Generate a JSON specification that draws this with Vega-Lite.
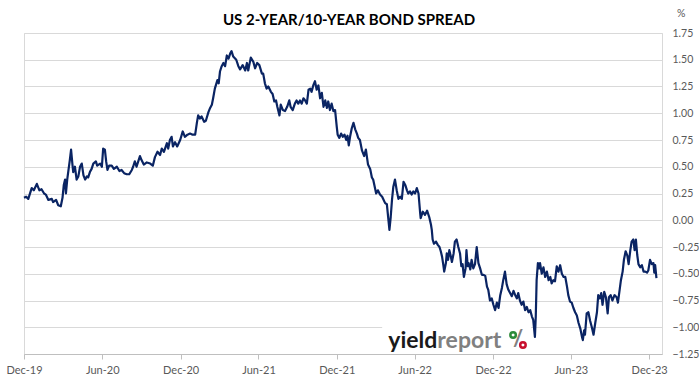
{
  "$schema": "https://vega.github.io/schema/vega-lite/v6.json",
  "width": 638,
  "height": 321,
  "autosize": {"type": "none"},
  "padding": {"left": 24, "top": 33, "right": 37, "bottom": 31},
  "background": "#ffffff",
  "title": {
    "text": "US 2-YEAR/10-YEAR BOND SPREAD",
    "font": "Lato",
    "fontSize": 15,
    "fontWeight": "bold",
    "color": "#000000",
    "anchor": "middle",
    "baseline": "bottom",
    "dx": 6,
    "offset": -34
  },
  "config": {
    "view": {"stroke": "#d9d9d9", "strokeWidth": 1},
    "axis": {"labelFont": "Lato", "labelFontSize": 11, "labelColor": "#595959", "gridColor": "#d9d9d9", "titleFont": "Lato", "labelOverlap": false}
  },
  "data": {
    "values": [
      {"d":"2019-12-01","v":0.21},{"d":"2019-12-06","v":0.22},{"d":"2019-12-11","v":0.20},{"d":"2019-12-19","v":0.30},{"d":"2019-12-24","v":0.28},{"d":"2019-12-31","v":0.34},
      {"d":"2020-01-06","v":0.28},{"d":"2020-01-11","v":0.29},{"d":"2020-01-17","v":0.25},{"d":"2020-01-21","v":0.24},{"d":"2020-01-27","v":0.19},
      {"d":"2020-02-04","v":0.20},{"d":"2020-02-07","v":0.17},{"d":"2020-02-14","v":0.19},{"d":"2020-02-19","v":0.14},{"d":"2020-02-25","v":0.13},{"d":"2020-02-29","v":0.21},
      {"d":"2020-03-03","v":0.33},{"d":"2020-03-06","v":0.38},{"d":"2020-03-08","v":0.25},{"d":"2020-03-11","v":0.38},{"d":"2020-03-14","v":0.47},{"d":"2020-03-17","v":0.56},{"d":"2020-03-20","v":0.66},{"d":"2020-03-23","v":0.53},{"d":"2020-03-25","v":0.45},{"d":"2020-03-29","v":0.50},
      {"d":"2020-04-02","v":0.38},{"d":"2020-04-06","v":0.41},{"d":"2020-04-10","v":0.50},{"d":"2020-04-14","v":0.53},{"d":"2020-04-18","v":0.42},{"d":"2020-04-22","v":0.38},{"d":"2020-04-26","v":0.41},{"d":"2020-04-29","v":0.40},
      {"d":"2020-05-03","v":0.45},{"d":"2020-05-07","v":0.48},{"d":"2020-05-11","v":0.53},{"d":"2020-05-17","v":0.55},{"d":"2020-05-20","v":0.51},{"d":"2020-05-27","v":0.53},{"d":"2020-05-31","v":0.50},
      {"d":"2020-06-03","v":0.67},{"d":"2020-06-07","v":0.66},{"d":"2020-06-10","v":0.55},{"d":"2020-06-13","v":0.47},{"d":"2020-06-17","v":0.51},{"d":"2020-06-23","v":0.51},{"d":"2020-06-28","v":0.48},
      {"d":"2020-07-05","v":0.50},{"d":"2020-07-11","v":0.46},{"d":"2020-07-16","v":0.47},{"d":"2020-07-22","v":0.44},{"d":"2020-07-28","v":0.43},
      {"d":"2020-08-03","v":0.43},{"d":"2020-08-09","v":0.47},{"d":"2020-08-12","v":0.50},{"d":"2020-08-16","v":0.55},{"d":"2020-08-20","v":0.50},{"d":"2020-08-24","v":0.55},{"d":"2020-08-28","v":0.60},
      {"d":"2020-09-01","v":0.56},{"d":"2020-09-06","v":0.52},{"d":"2020-09-13","v":0.54},{"d":"2020-09-21","v":0.53},{"d":"2020-09-27","v":0.51},
      {"d":"2020-10-02","v":0.59},{"d":"2020-10-08","v":0.64},{"d":"2020-10-14","v":0.61},{"d":"2020-10-18","v":0.67},{"d":"2020-10-23","v":0.64},{"d":"2020-10-30","v":0.72},
      {"d":"2020-11-02","v":0.67},{"d":"2020-11-06","v":0.75},{"d":"2020-11-10","v":0.78},{"d":"2020-11-13","v":0.69},{"d":"2020-11-18","v":0.73},{"d":"2020-11-23","v":0.69},{"d":"2020-11-30","v":0.75},
      {"d":"2020-12-06","v":0.83},{"d":"2020-12-11","v":0.78},{"d":"2020-12-17","v":0.80},{"d":"2020-12-23","v":0.81},{"d":"2020-12-29","v":0.80},
      {"d":"2021-01-04","v":0.80},{"d":"2021-01-08","v":0.91},{"d":"2021-01-11","v":0.98},{"d":"2021-01-15","v":0.95},{"d":"2021-01-19","v":0.97},{"d":"2021-01-25","v":0.92},{"d":"2021-01-29","v":0.93},
      {"d":"2021-02-04","v":1.01},{"d":"2021-02-08","v":1.05},{"d":"2021-02-12","v":1.08},{"d":"2021-02-15","v":1.14},{"d":"2021-02-19","v":1.23},{"d":"2021-02-25","v":1.31},{"d":"2021-02-28","v":1.28},
      {"d":"2021-03-03","v":1.39},{"d":"2021-03-07","v":1.44},{"d":"2021-03-11","v":1.47},{"d":"2021-03-15","v":1.44},{"d":"2021-03-19","v":1.54},{"d":"2021-03-23","v":1.51},{"d":"2021-03-27","v":1.56},{"d":"2021-03-30","v":1.58},
      {"d":"2021-04-03","v":1.53},{"d":"2021-04-10","v":1.50},{"d":"2021-04-15","v":1.44},{"d":"2021-04-19","v":1.41},{"d":"2021-04-25","v":1.45},
      {"d":"2021-05-01","v":1.40},{"d":"2021-05-05","v":1.47},{"d":"2021-05-08","v":1.40},{"d":"2021-05-14","v":1.52},{"d":"2021-05-20","v":1.48},{"d":"2021-05-24","v":1.42},{"d":"2021-05-29","v":1.47},
      {"d":"2021-06-03","v":1.45},{"d":"2021-06-09","v":1.37},{"d":"2021-06-12","v":1.37},{"d":"2021-06-16","v":1.28},{"d":"2021-06-20","v":1.23},{"d":"2021-06-24","v":1.25},{"d":"2021-06-30","v":1.20},
      {"d":"2021-07-04","v":1.18},{"d":"2021-07-08","v":1.11},{"d":"2021-07-12","v":1.12},{"d":"2021-07-15","v":1.06},{"d":"2021-07-20","v":0.98},{"d":"2021-07-23","v":1.08},{"d":"2021-07-28","v":1.03},
      {"d":"2021-08-02","v":1.02},{"d":"2021-08-07","v":1.06},{"d":"2021-08-12","v":1.12},{"d":"2021-08-15","v":1.06},{"d":"2021-08-20","v":1.03},{"d":"2021-08-25","v":1.09},{"d":"2021-08-29","v":1.12},
      {"d":"2021-09-02","v":1.09},{"d":"2021-09-06","v":1.12},{"d":"2021-09-10","v":1.09},{"d":"2021-09-14","v":1.14},{"d":"2021-09-18","v":1.12},{"d":"2021-09-22","v":1.09},{"d":"2021-09-26","v":1.22},{"d":"2021-09-30","v":1.23},
      {"d":"2021-10-03","v":1.20},{"d":"2021-10-07","v":1.26},{"d":"2021-10-11","v":1.30},{"d":"2021-10-15","v":1.22},{"d":"2021-10-19","v":1.26},{"d":"2021-10-23","v":1.14},{"d":"2021-10-27","v":1.19},{"d":"2021-10-31","v":1.06},
      {"d":"2021-11-04","v":1.12},{"d":"2021-11-08","v":1.05},{"d":"2021-11-11","v":1.11},{"d":"2021-11-15","v":1.03},{"d":"2021-11-19","v":1.09},{"d":"2021-11-23","v":1.02},{"d":"2021-11-27","v":1.03},
      {"d":"2021-12-01","v":0.87},{"d":"2021-12-03","v":0.80},{"d":"2021-12-07","v":0.77},{"d":"2021-12-11","v":0.81},{"d":"2021-12-15","v":0.78},{"d":"2021-12-19","v":0.80},{"d":"2021-12-23","v":0.75},{"d":"2021-12-26","v":0.79},{"d":"2021-12-29","v":0.70},
      {"d":"2022-01-01","v":0.78},{"d":"2022-01-05","v":0.86},{"d":"2022-01-09","v":0.91},{"d":"2022-01-13","v":0.85},{"d":"2022-01-17","v":0.81},{"d":"2022-01-20","v":0.77},{"d":"2022-01-24","v":0.75},{"d":"2022-01-29","v":0.65},
      {"d":"2022-02-03","v":0.60},{"d":"2022-02-07","v":0.66},{"d":"2022-02-12","v":0.52},{"d":"2022-02-17","v":0.48},{"d":"2022-02-21","v":0.40},{"d":"2022-02-24","v":0.38},
      {"d":"2022-03-03","v":0.25},{"d":"2022-03-07","v":0.28},{"d":"2022-03-12","v":0.24},{"d":"2022-03-17","v":0.22},{"d":"2022-03-24","v":0.16},{"d":"2022-03-28","v":0.15},{"d":"2022-03-31","v":0.03},
      {"d":"2022-04-03","v":-0.09},{"d":"2022-04-06","v":0.03},{"d":"2022-04-09","v":0.19},{"d":"2022-04-12","v":0.31},{"d":"2022-04-16","v":0.38},{"d":"2022-04-20","v":0.28},{"d":"2022-04-24","v":0.20},{"d":"2022-04-28","v":0.22},
      {"d":"2022-05-02","v":0.20},{"d":"2022-05-06","v":0.36},{"d":"2022-05-10","v":0.33},{"d":"2022-05-14","v":0.28},{"d":"2022-05-17","v":0.25},{"d":"2022-05-21","v":0.27},{"d":"2022-05-25","v":0.24},{"d":"2022-05-29","v":0.27},
      {"d":"2022-06-02","v":0.25},{"d":"2022-06-06","v":0.30},{"d":"2022-06-10","v":0.25},{"d":"2022-06-14","v":0.06},{"d":"2022-06-15","v":0.02},{"d":"2022-06-20","v":0.08},{"d":"2022-06-25","v":0.05},{"d":"2022-06-30","v":0.09},
      {"d":"2022-07-05","v":0.03},{"d":"2022-07-09","v":-0.04},{"d":"2022-07-11","v":-0.09},{"d":"2022-07-13","v":-0.18},{"d":"2022-07-16","v":-0.22},{"d":"2022-07-21","v":-0.20},{"d":"2022-07-25","v":-0.23},{"d":"2022-07-29","v":-0.25},
      {"d":"2022-08-01","v":-0.29},{"d":"2022-08-04","v":-0.34},{"d":"2022-08-07","v":-0.42},{"d":"2022-08-09","v":-0.48},{"d":"2022-08-13","v":-0.40},{"d":"2022-08-15","v":-0.31},{"d":"2022-08-18","v":-0.37},{"d":"2022-08-21","v":-0.28},{"d":"2022-08-24","v":-0.33},{"d":"2022-08-27","v":-0.39},{"d":"2022-08-31","v":-0.31},
      {"d":"2022-09-03","v":-0.20},{"d":"2022-09-07","v":-0.18},{"d":"2022-09-11","v":-0.25},{"d":"2022-09-15","v":-0.31},{"d":"2022-09-18","v":-0.43},{"d":"2022-09-21","v":-0.41},{"d":"2022-09-24","v":-0.53},{"d":"2022-09-28","v":-0.45},{"d":"2022-09-30","v":-0.28},
      {"d":"2022-10-03","v":-0.43},{"d":"2022-10-05","v":-0.40},{"d":"2022-10-09","v":-0.46},{"d":"2022-10-12","v":-0.37},{"d":"2022-10-16","v":-0.45},{"d":"2022-10-20","v":-0.41},{"d":"2022-10-24","v":-0.25},{"d":"2022-10-28","v":-0.40},
      {"d":"2022-11-01","v":-0.45},{"d":"2022-11-05","v":-0.51},{"d":"2022-11-09","v":-0.51},{"d":"2022-11-13","v":-0.52},{"d":"2022-11-17","v":-0.62},{"d":"2022-11-20","v":-0.65},{"d":"2022-11-24","v":-0.75},{"d":"2022-11-28","v":-0.73},
      {"d":"2022-12-02","v":-0.79},{"d":"2022-12-06","v":-0.84},{"d":"2022-12-10","v":-0.77},{"d":"2022-12-14","v":-0.82},{"d":"2022-12-18","v":-0.70},{"d":"2022-12-22","v":-0.63},{"d":"2022-12-25","v":-0.56},{"d":"2022-12-29","v":-0.48},
      {"d":"2023-01-02","v":-0.60},{"d":"2023-01-06","v":-0.65},{"d":"2023-01-10","v":-0.68},{"d":"2023-01-14","v":-0.71},{"d":"2023-01-18","v":-0.66},{"d":"2023-01-22","v":-0.70},{"d":"2023-01-26","v":-0.73},{"d":"2023-01-29","v":-0.68},
      {"d":"2023-02-02","v":-0.75},{"d":"2023-02-06","v":-0.79},{"d":"2023-02-10","v":-0.76},{"d":"2023-02-14","v":-0.84},{"d":"2023-02-18","v":-0.81},{"d":"2023-02-22","v":-0.86},{"d":"2023-02-26","v":-0.84},
      {"d":"2023-03-02","v":-0.90},{"d":"2023-03-05","v":-0.93},{"d":"2023-03-09","v":-1.09},{"d":"2023-03-11","v":-0.90},{"d":"2023-03-13","v":-0.56},{"d":"2023-03-16","v":-0.40},{"d":"2023-03-19","v":-0.45},{"d":"2023-03-21","v":-0.40},{"d":"2023-03-25","v":-0.50},{"d":"2023-03-29","v":-0.44},
      {"d":"2023-04-02","v":-0.53},{"d":"2023-04-06","v":-0.48},{"d":"2023-04-10","v":-0.56},{"d":"2023-04-14","v":-0.53},{"d":"2023-04-17","v":-0.59},{"d":"2023-04-21","v":-0.56},{"d":"2023-04-25","v":-0.57},{"d":"2023-04-29","v":-0.43},
      {"d":"2023-05-03","v":-0.48},{"d":"2023-05-07","v":-0.42},{"d":"2023-05-11","v":-0.50},{"d":"2023-05-15","v":-0.53},{"d":"2023-05-19","v":-0.53},{"d":"2023-05-23","v":-0.62},{"d":"2023-05-26","v":-0.70},{"d":"2023-05-30","v":-0.76},
      {"d":"2023-06-03","v":-0.77},{"d":"2023-06-07","v":-0.82},{"d":"2023-06-11","v":-0.86},{"d":"2023-06-15","v":-0.89},{"d":"2023-06-19","v":-0.96},{"d":"2023-06-23","v":-1.01},{"d":"2023-06-27","v":-1.09},{"d":"2023-06-29","v":-1.12},
      {"d":"2023-07-02","v":-1.03},{"d":"2023-07-04","v":-1.07},{"d":"2023-07-08","v":-0.87},{"d":"2023-07-12","v":-0.86},{"d":"2023-07-16","v":-0.94},{"d":"2023-07-20","v":-1.00},{"d":"2023-07-24","v":-1.07},{"d":"2023-07-28","v":-0.96},
      {"d":"2023-08-01","v":-0.86},{"d":"2023-08-04","v":-0.70},{"d":"2023-08-08","v":-0.73},{"d":"2023-08-11","v":-0.68},{"d":"2023-08-14","v":-0.79},{"d":"2023-08-18","v":-0.67},{"d":"2023-08-22","v":-0.72},{"d":"2023-08-26","v":-0.87},{"d":"2023-08-29","v":-0.72},
      {"d":"2023-09-02","v":-0.70},{"d":"2023-09-06","v":-0.75},{"d":"2023-09-11","v":-0.70},{"d":"2023-09-16","v":-0.72},{"d":"2023-09-19","v":-0.77},{"d":"2023-09-23","v":-0.65},{"d":"2023-09-26","v":-0.56},{"d":"2023-09-30","v":-0.48},
      {"d":"2023-10-03","v":-0.37},{"d":"2023-10-07","v":-0.29},{"d":"2023-10-11","v":-0.33},{"d":"2023-10-14","v":-0.41},{"d":"2023-10-18","v":-0.28},{"d":"2023-10-21","v":-0.20},{"d":"2023-10-25","v":-0.18},{"d":"2023-10-28","v":-0.28},{"d":"2023-10-31","v":-0.18},
      {"d":"2023-11-03","v":-0.32},{"d":"2023-11-06","v":-0.41},{"d":"2023-11-10","v":-0.44},{"d":"2023-11-14","v":-0.42},{"d":"2023-11-18","v":-0.48},{"d":"2023-11-22","v":-0.48},{"d":"2023-11-26","v":-0.49},{"d":"2023-11-29","v":-0.47},
      {"d":"2023-12-03","v":-0.37},{"d":"2023-12-07","v":-0.41},{"d":"2023-12-11","v":-0.40},{"d":"2023-12-13","v":-0.49},{"d":"2023-12-15","v":-0.42},{"d":"2023-12-18","v":-0.54}
    ]
  },
  "layer": [
    {
      "data": {"values": [{}]},
      "mark": {"type": "rect", "color": "#ffffff"},
      "encoding": {
        "x": {"datum": {"year": 2022, "month": 3, "date": 17, "utc": true}, "type": "temporal"},
        "x2": {"datum": {"year": 2023, "month": 2, "date": 28, "utc": true}},
        "y": {"datum": -1.24, "type": "quantitative"},
        "y2": {"datum": -0.85}
      }
    },
    {
      "mark": {"type": "line", "color": "#0a2463", "strokeWidth": 2.2, "strokeJoin": "round"},
      "encoding": {
        "x": {
          "field": "d",
          "type": "temporal",
          "scale": {"type": "utc", "domain": [{"year": 2019, "month": 12, "date": 1, "utc": true}, {"year": 2023, "month": 12, "date": 31, "utc": true}]},
          "axis": {
            "title": null,
            "grid": false,
            "format": "%b-%y",
            "tickCount": 20,
            "values": [
              {"year": 2019, "month": 12, "date": 1, "utc": true},
              {"year": 2020, "month": 6, "date": 1, "utc": true},
              {"year": 2020, "month": 12, "date": 1, "utc": true},
              {"year": 2021, "month": 6, "date": 1, "utc": true},
              {"year": 2021, "month": 12, "date": 1, "utc": true},
              {"year": 2022, "month": 6, "date": 1, "utc": true},
              {"year": 2022, "month": 12, "date": 1, "utc": true},
              {"year": 2023, "month": 6, "date": 1, "utc": true},
              {"year": 2023, "month": 12, "date": 1, "utc": true}
            ],
            "domainColor": "#bfbfbf",
            "tickColor": "#bfbfbf",
            "tickSize": 5,
            "labelPadding": 5,
            "labelFlush": false,
            "labelOverlap": false
          }
        },
        "y": {
          "field": "v",
          "type": "quantitative",
          "scale": {"domain": [-1.25, 1.75], "nice": false, "zero": false},
          "axis": {
            "orient": "right",
            "title": null,
            "tickCount": 20,
            "values": [-1.25, -1, -0.75, -0.5, -0.25, 0, 0.25, 0.5, 0.75, 1, 1.25, 1.5, 1.75],
            "format": ".2f",
            "labelAlign": "left",
            "labelFontSize": 10.5,
            "labelPadding": 10,
            "labelOverlap": false,
            "labelFlush": false,
            "ticks": false,
            "domain": false,
            "grid": true
          }
        }
      }
    },
    {
      "data": {"values": [{}]},
      "mark": {"type": "text", "text": "%", "font": "Lato", "fontSize": 10.5, "color": "#595959", "align": "left", "baseline": "middle", "dx": 15, "dy": -19},
      "encoding": {
        "x": {"datum": {"year": 2023, "month": 12, "date": 31, "utc": true}, "type": "temporal"},
        "y": {"datum": 1.75, "type": "quantitative"}
      }
    },
    {
      "data": {"values": [{}]},
      "mark": {"type": "text", "text": "yield", "font": "Lato", "fontSize": 23, "fontWeight": "bold", "color": "#1a1a1a", "align": "right", "baseline": "alphabetic"},
      "encoding": {
        "x": {"datum": {"year": 2022, "month": 7, "date": 24, "utc": true}, "type": "temporal"},
        "y": {"datum": -1.19, "type": "quantitative"}
      }
    },
    {
      "data": {"values": [{}]},
      "mark": {"type": "text", "text": "report", "font": "Lato", "fontSize": 23, "fontWeight": "bold", "color": "#808080", "align": "left", "baseline": "alphabetic"},
      "encoding": {
        "x": {"datum": {"year": 2022, "month": 7, "date": 24, "utc": true}, "type": "temporal"},
        "y": {"datum": -1.19, "type": "quantitative"}
      }
    },
    {
      "data": {"values": [{}]},
      "mark": {"type": "text", "text": "/", "font": "Lato", "fontSize": 22, "fontWeight": "bold", "color": "#808080", "align": "center", "baseline": "middle"},
      "encoding": {
        "x": {"datum": {"year": 2023, "month": 1, "date": 29, "utc": true}, "type": "temporal"},
        "y": {"datum": -1.11, "type": "quantitative"}
      }
    },
    {
      "data": {"values": [{}]},
      "mark": {"type": "point", "shape": "circle", "filled": false, "size": 30, "strokeWidth": 2.5, "color": "#2e8b3a", "opacity": 1},
      "encoding": {
        "x": {"datum": {"year": 2023, "month": 1, "date": 17, "utc": true}, "type": "temporal"},
        "y": {"datum": -1.072, "type": "quantitative"}
      }
    },
    {
      "data": {"values": [{}]},
      "mark": {"type": "point", "shape": "circle", "filled": false, "size": 30, "strokeWidth": 2.5, "color": "#c8102e", "opacity": 1},
      "encoding": {
        "x": {"datum": {"year": 2023, "month": 2, "date": 9, "utc": true}, "type": "temporal"},
        "y": {"datum": -1.166, "type": "quantitative"}
      }
    }
  ]
}
